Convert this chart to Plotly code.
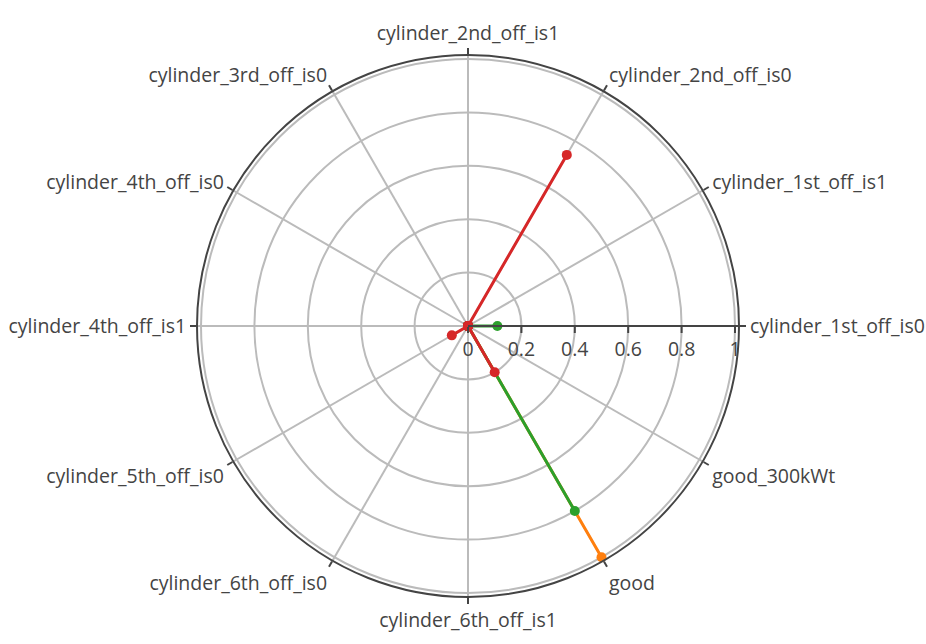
import plotly.graph_objects as go

categories = [
    "cylinder_1st_off_is0", "cylinder_1st_off_is1", "cylinder_2nd_off_is0",
    "cylinder_2nd_off_is1", "cylinder_3rd_off_is0", "cylinder_4th_off_is0",
    "cylinder_4th_off_is1", "cylinder_5th_off_is0", "cylinder_6th_off_is0",
    "cylinder_6th_off_is1", "good", "good_300kWt",
]

blue_vals = [0, 0, 0, 0, 0, 0, 0, 0, 0, 0, 0, 0]
orange_vals = [0, 0, 0, 0, 0, 0, 0, 0, 0, 0, 1.0, 0]
green_vals = [0.11, 0, 0, 0, 0, 0, 0, 0, 0, 0, 0.8, 0]
red_vals = [0, 0, 0.74, 0, 0, 0, 0, 0.07, 0, 0, 0.2, 0]

series = [
    ("blue", blue_vals, "#1f77b4"),
    ("orange", orange_vals, "#ff7f0e"),
    ("green", green_vals, "#2ca02c"),
    ("red", red_vals, "#d62728"),
]

radial_ticks = [0, 0.2, 0.4, 0.6, 0.8, 1]
radial_ticklabels = ["0", "0.2", "0.4", "0.6", "0.8", "1"]

fig = go.Figure()
for name, vals, color in series:
    fig.add_trace(go.Scatterpolar(
        r=vals, theta=categories, mode="lines+markers", name=name,
        line=dict(color=color, width=3),
        marker=dict(color=color, size=10),
    ))

fig.update_layout(
    template="none",
    width=926, height=644,
    margin=dict(l=80, r=70, t=55, b=47),
    paper_bgcolor="white",
    showlegend=False,
    font=dict(family="Open Sans, verdana, arial, sans-serif", size=19.5, color="#444"),
    polar=dict(
        bgcolor="white",
        angularaxis=dict(
            rotation=0, direction="counterclockwise",
            categoryorder="array", categoryarray=categories,
            showline=True, linecolor="#444", linewidth=2,
            gridcolor="#bbbbbb", gridwidth=1.6,
            ticks="outside", ticklen=6, tickcolor="#444", tickwidth=1.5,
        ),
        radialaxis=dict(
            range=[0, 1.015], angle=0,
            tickvals=radial_ticks, ticktext=radial_ticklabels,
            showline=True, linecolor="#444", linewidth=2,
            gridcolor="#bbbbbb", gridwidth=1.6,
            ticks="outside", ticklen=6, tickcolor="#444", tickwidth=1.5,
        ),
    ),
)

fig.write_html("out.html")
